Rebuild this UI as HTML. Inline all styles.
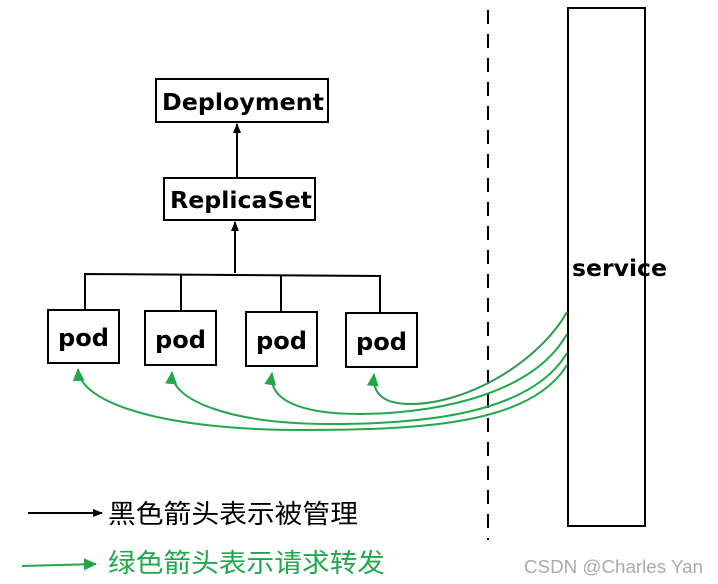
<!DOCTYPE html>
<html><head><meta charset="utf-8"><style>
html,body{margin:0;padding:0;background:#fff;width:718px;height:584px;overflow:hidden}
svg{display:block}
.b{font-family:"DejaVu Sans","Liberation Sans",sans-serif;font-weight:bold;fill:#000}
.c{font-family:"Noto Sans CJK SC","WenQuanYi Zen Hei",sans-serif;font-size:26px}
</style></head><body>
<svg width="718" height="584" viewBox="0 0 718 584" xmlns="http://www.w3.org/2000/svg">
<defs>
<marker id="ka" markerWidth="12" markerHeight="12" refX="9" refY="5" orient="auto" markerUnits="userSpaceOnUse"><path d="M0,1 L10,5 L0,9 Z" fill="#000"/></marker>
<marker id="ga" markerWidth="14" markerHeight="14" refX="12" refY="7" orient="auto" markerUnits="userSpaceOnUse"><path d="M0,1 L13,7 L0,13 Z" fill="#22a84a"/></marker>
</defs>
<g stroke="#000" stroke-width="2" fill="#fff">
<rect x="156" y="79" width="172" height="43"/>
<rect x="164" y="178" width="151" height="42"/>
<rect x="48" y="310" width="71" height="53"/>
<rect x="145" y="311" width="71" height="54"/>
<rect x="246" y="312" width="71" height="54"/>
<rect x="346" y="313" width="71" height="54"/>
<rect x="568" y="8" width="77" height="518"/>
</g>
<g stroke="#000" stroke-width="2" fill="none">
<line x1="237" y1="177" x2="237" y2="124" marker-end="url(#ka)"/>
<line x1="235" y1="273" x2="235" y2="222" marker-end="url(#ka)"/>
<polyline points="85,310 85,274 380,276 380,313"/>
<line x1="181" y1="274" x2="181" y2="311"/>
<line x1="281" y1="275" x2="281" y2="312"/>
<line x1="488" y1="10" x2="488" y2="540" stroke-dasharray="14,10"/>
<line x1="28" y1="513" x2="102" y2="513" marker-end="url(#ka)"/>
</g>
<g stroke="#22a84a" stroke-width="2" fill="none">
<path d="M567 312 C540 360 470 404 410 404 C385 404 372 395 374 374" marker-end="url(#ga)" stroke="#2e9a50"/>
<path d="M567 334 C530 400 420 414 360 414 C300 414 268 400 272 373" marker-end="url(#ga)"/>
<path d="M567 353 C530 415 420 424 330 424 C230 424 170 400 172 372" marker-end="url(#ga)"/>
<path d="M567 365 C530 425 420 430 300 430 C170 430 80 405 78 369" marker-end="url(#ga)"/>
<line x1="22" y1="566" x2="96" y2="564" marker-end="url(#ga)"/>
</g>
<text class="b" x="162" y="110" font-size="23" textLength="162" lengthAdjust="spacingAndGlyphs">Deployment</text>
<text class="b" x="170" y="208" font-size="23" textLength="142" lengthAdjust="spacingAndGlyphs">ReplicaSet</text>
<text class="b" x="58" y="346" font-size="24" textLength="51" lengthAdjust="spacingAndGlyphs">pod</text>
<text class="b" x="155" y="348" font-size="24" textLength="51" lengthAdjust="spacingAndGlyphs">pod</text>
<text class="b" x="256" y="349" font-size="24" textLength="51" lengthAdjust="spacingAndGlyphs">pod</text>
<text class="b" x="356" y="350" font-size="24" textLength="51" lengthAdjust="spacingAndGlyphs">pod</text>
<text class="b" x="572" y="276" font-size="23" textLength="95" lengthAdjust="spacingAndGlyphs">service</text>
<text class="c" x="108" y="523" fill="#000" textLength="250" lengthAdjust="spacingAndGlyphs">黑色箭头表示被管理</text>
<text class="c" x="108" y="572" fill="#22a84a" textLength="277" lengthAdjust="spacingAndGlyphs">绿色箭头表示请求转发</text>
<text x="524" y="573" font-family="Liberation Sans, sans-serif" font-size="18" fill="#aaa" textLength="179" lengthAdjust="spacingAndGlyphs">CSDN @Charles Yan</text>
</svg>
</body></html>
